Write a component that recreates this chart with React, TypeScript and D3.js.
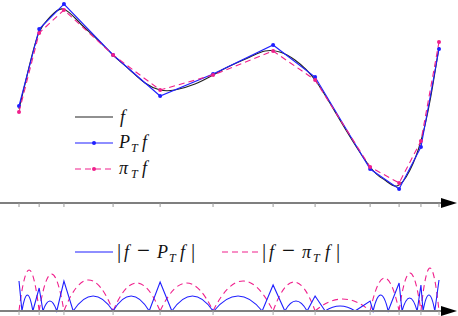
import * as d3 from 'd3';

// node positions (normalised), shared by both panels
const nodes = [0, 0.048, 0.107, 0.224, 0.336, 0.462, 0.605, 0.705, 0.836, 0.905, 0.957, 1];
// interpolant pi_T f and L2 projection P_T f at the nodes
const interpVals = [-0.12, 0.67, 0.9, 0.45, 0.1, 0.25, 0.49, 0.2, -0.67, -0.83, -0.41, 0.58];
const projVals = [-0.06, 0.71, 0.96, 0.45, 0.04, 0.26, 0.55, 0.23, -0.69, -0.89, -0.47, 0.51];
// samples of f
const fX = [0, 0.024, 0.048, 0.074, 0.105, 0.145, 0.183, 0.224, 0.264, 0.3, 0.336, 0.371, 0.419, 0.462, 0.502, 0.55, 0.586, 0.621, 0.657, 0.705, 0.764, 0.836, 0.871, 0.9, 0.931, 0.957, 0.979, 1];
const fY = [-0.09, 0.33, 0.68, 0.83, 0.91, 0.77, 0.62, 0.45, 0.3, 0.17, 0.1, 0.1, 0.16, 0.25, 0.34, 0.43, 0.49, 0.48, 0.4, 0.2, -0.2, -0.67, -0.8, -0.86, -0.7, -0.41, 0.0, 0.53];

// |f - pi_T f| : peak per element
const interpErrPeak = [0.82, 0.74, 0.62, 0.56, 0.56, 0.6, 0.58, 0.24, 0.66, 0.76, 0.86];
// |f - P_T f| : value at nodes, zero crossings and arc peak per element
const projErrNode = [0.6, 0.46, 0.6, 0, 0.58, 0.02, 0.52, 0.3, 0.2, 0.56, 0.52, 0.62];
const projErrZeroA = [0.007, 0.057, 0.129, 0.224, 0.364, 0.464, 0.633, 0.729, 0.843, 0.912, 0.962];
const projErrZeroB = [0.033, 0.09, 0.224, 0.31, 0.462, 0.579, 0.686, 0.8, 0.879, 0.948, 0.99];
const projErrPeak = [0.32, 0.2, 0.3, 0.3, 0.3, 0.3, 0.2, 0.1, 0.32, 0.26, 0.32];

const W = 458;
const H = 316;
const BLUE = '#1f1fff';
const PINK = '#f0208c';
const FONT = '"Liberation Serif", "DejaVu Serif", serif';

const x = d3.scaleLinear().domain([0, 1]).range([19, 439]);
const y = d3.scaleLinear().domain([-1, 1]).range([200, 0]);
const ey = d3.scaleLinear().domain([0, 1]).range([311, 261]);

// one glyph run placed at an absolute x
type Glyph = { t: string; x: number; italic?: boolean; sub?: boolean; size?: number };

const MathText = ({ glyphs, base }: { glyphs: Glyph[]; base: number }) => (
  <text fontSize={18} fill="#111">
    {glyphs.map((g, i) => (
      <tspan
        key={i}
        x={g.x}
        y={g.sub ? base + 4 : base}
        fontSize={g.size ?? (g.sub ? 12 : 18)}
        fontStyle={g.italic === false ? 'normal' : 'italic'}
      >
        {g.t}
      </tspan>
    ))}
  </text>
);

const App = () => {
  const fLine = d3
    .line<number>()
    .x((_, i) => x(fX[i]))
    .y((d) => y(d))
    .curve(d3.curveNatural);

  const nodeLine = d3
    .line<number>()
    .x((_, i) => x(nodes[i]))
    .y((d) => y(d));

  // interpolation error: one arc per element
  const pinkErr = d3.path();
  interpErrPeak.forEach((h, i) => {
    const x0 = x(nodes[i]);
    const x1 = x(nodes[i + 1]);
    const base = ey(0);
    pinkErr.moveTo(x0, base);
    pinkErr.quadraticCurveTo((x0 + x1) / 2, base - 2 * (base - ey(h)), x1, base);
  });

  // projection error: spikes at nodes, arcs between zero crossings
  const blueErr = d3.path();
  blueErr.moveTo(x(nodes[0]), ey(projErrNode[0]));
  projErrPeak.forEach((h, i) => {
    const za = x(projErrZeroA[i]);
    const zb = x(projErrZeroB[i]);
    const base = ey(0);
    blueErr.lineTo(za, base);
    blueErr.quadraticCurveTo((za + zb) / 2, base - 2 * (base - ey(h)), zb, base);
    blueErr.lineTo(x(nodes[i + 1]), ey(projErrNode[i + 1]));
  });

  const arrow = (yy: number) => `M441,${yy - 5} L457,${yy} L441,${yy + 5} Z`;

  return (
    <svg width={W} height={H} style={{ position: 'absolute', left: 0, top: 0 }} fontFamily={FONT}>
      {/* top axis */}
      <line x1={0} x2={445} y1={203} y2={203} stroke="#555" strokeWidth={1.6} />
      {nodes.map((n, i) => (
        <line key={i} x1={x(n)} x2={x(n)} y1={203} y2={207} stroke="#999" strokeWidth={1} />
      ))}
      <path d={arrow(203)} fill="#000" />

      {/* top curves */}
      <path d={fLine(fY) ?? ''} fill="none" stroke="#222" strokeWidth={1.1} />
      <path d={nodeLine(projVals) ?? ''} fill="none" stroke={BLUE} strokeWidth={1.1} />
      {projVals.map((v, i) => (
        <circle key={i} cx={x(nodes[i])} cy={y(v)} r={2} fill={BLUE} />
      ))}
      <path d={nodeLine(interpVals) ?? ''} fill="none" stroke={PINK} strokeWidth={1.1} strokeDasharray="6 4" />
      {interpVals.map((v, i) => (
        <circle key={i} cx={x(nodes[i])} cy={y(v)} r={2} fill={PINK} />
      ))}

      {/* top legend */}
      <line x1={75} x2={113} y1={117} y2={117} stroke="#222" strokeWidth={1.1} />
      <MathText base={123} glyphs={[{ t: 'f', x: 120 }]} />
      <line x1={75} x2={113} y1={143} y2={143} stroke={BLUE} strokeWidth={1.1} />
      <circle cx={94} cy={143} r={2} fill={BLUE} />
      <MathText base={148} glyphs={[{ t: 'P', x: 119 }, { t: 'T', x: 131, sub: true }, { t: 'f', x: 142 }]} />
      <line x1={75} x2={113} y1={169} y2={169} stroke={PINK} strokeWidth={1.1} strokeDasharray="6 4" />
      <circle cx={94} cy={169} r={2} fill={PINK} />
      <MathText base={174} glyphs={[{ t: 'π', x: 119 }, { t: 'T', x: 131, sub: true }, { t: 'f', x: 142 }]} />

      {/* bottom legend */}
      <line x1={75} x2={113} y1={252} y2={252} stroke={BLUE} strokeWidth={1.1} />
      <MathText
        base={258}
        glyphs={[
          { t: '|', x: 117, italic: false, size: 21 },
          { t: 'f', x: 124 },
          { t: '−', x: 137, italic: false, size: 23 },
          { t: 'P', x: 157 },
          { t: 'T', x: 169, sub: true },
          { t: 'f', x: 180 },
          { t: '|', x: 191, italic: false, size: 21 },
        ]}
      />
      <line x1={222} x2={260} y1={252} y2={252} stroke={PINK} strokeWidth={1.1} strokeDasharray="6 4" />
      <MathText
        base={258}
        glyphs={[
          { t: '|', x: 262, italic: false, size: 21 },
          { t: 'f', x: 269 },
          { t: '−', x: 282, italic: false, size: 23 },
          { t: 'π', x: 302 },
          { t: 'T', x: 313, sub: true },
          { t: 'f', x: 325 },
          { t: '|', x: 336, italic: false, size: 21 },
        ]}
      />

      {/* bottom curves */}
      <path d={pinkErr.toString()} fill="none" stroke={PINK} strokeWidth={1.1} strokeDasharray="6 4" />
      <path d={blueErr.toString()} fill="none" stroke={BLUE} strokeWidth={1.1} />

      {/* bottom axis */}
      <line x1={0} x2={445} y1={311} y2={311} stroke="#808080" strokeWidth={2.2} />
      {nodes.map((n, i) => (
        <line key={i} x1={x(n)} x2={x(n)} y1={311} y2={315} stroke="#aaa" strokeWidth={1} />
      ))}
      <path d={arrow(311)} fill="#000" />
    </svg>
  );
};

export default App;
